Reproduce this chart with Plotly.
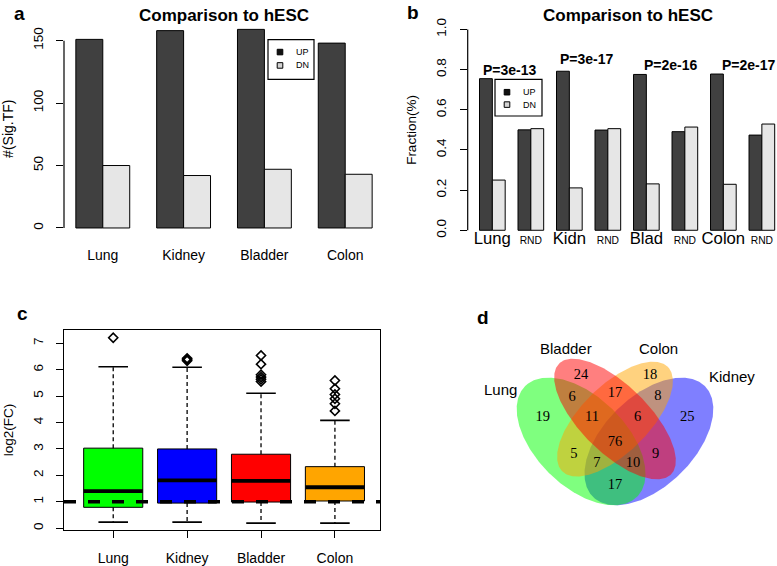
import numpy as np
import plotly.graph_objects as go

W, H = 777, 566

# ---------------- data ----------------
# panel a
tissues = ["Lung", "Kidney", "Bladder", "Colon"]
sig_up = [151, 158, 159, 148]
sig_dn = [50, 42, 47, 43]
a_yticks = [0, 50, 100, 150]

# panel b
b_groups = ["Lung", "RND", "Kidn", "RND", "Blad", "RND", "Colon", "RND"]
frac_up = [0.755, 0.500, 0.792, 0.499, 0.776, 0.491, 0.778, 0.474]
frac_dn = [0.250, 0.506, 0.211, 0.506, 0.231, 0.514, 0.229, 0.529]
p_labels = ["P=3e-13", "P=3e-17", "P=2e-16", "P=2e-17"]
b_yticks = [0.0, 0.2, 0.4, 0.6, 0.8, 1.0]

# panel c (box statistics of log2(FC))
box_colors = ["#00FF00", "#0000FF", "#FF0000", "#FFA500"]
whisk_lo = [0.23, 0.23, 0.19, 0.19]
q1 = [0.79, 0.95, 0.99, 1.03]
med = [1.40, 1.81, 1.79, 1.55]
q3 = [3.03, 3.00, 2.80, 2.33]
whisk_hi = [6.11, 6.09, 5.11, 4.08]
outliers = [
    [7.21],
    [6.34, 6.38, 6.43],
    [6.54, 6.21, 5.81, 5.72, 5.64, 5.55],
    [5.59, 5.28, 5.06, 4.90, 4.71, 4.44],
]
fc_threshold = 1.0
c_yticks = [0, 1, 2, 3, 4, 5, 6, 7]

# panel d (Venn)
venn_sets = ["Lung", "Kidney", "Bladder", "Colon"]
venn_fill = ["rgba(0,255,0,0.5)", "rgba(0,0,255,0.5)", "rgba(255,0,0,0.5)", "rgba(255,165,0,0.5)"]
venn_regions = ["B", "C", "LB", "BC", "CK", "L", "LBC", "BCK", "K", "LBCK", "LC", "BK", "LCK", "LBK", "LK"]
venn_counts = [24, 18, 6, 17, 8, 19, 11, 6, 25, 76, 5, 9, 7, 10, 17]

# ---------------- layout helpers ----------------
def dom_x(l, r):
    return [l / W, min(r / W, 1.0)]

def dom_y(t, b):
    return [1 - b / H, 1 - t / H]

def px(x):
    return x / W

def py(y):
    return 1 - y / H

SANS = "Liberation Sans, Arial, Helvetica, sans-serif"
SERIF = "Liberation Serif, Times New Roman, serif"
UP_COL, DN_COL = "#404040", "#E6E6E6"

fig = go.Figure()
shapes, annos = [], []

# ---------------- panel a ----------------
xa_up = [1.5 + 3 * i for i in range(len(tissues))]
xa_dn = [2.5 + 3 * i for i in range(len(tissues))]
fig.add_trace(go.Bar(x=xa_up, y=sig_up, width=1, marker=dict(color=UP_COL, line=dict(color="black", width=1)),
                     name="UP", showlegend=False, xaxis="x", yaxis="y"))
fig.add_trace(go.Bar(x=xa_dn, y=sig_dn, width=1, marker=dict(color=DN_COL, line=dict(color="black", width=1)),
                     name="DN", showlegend=False, xaxis="x", yaxis="y"))

# ---------------- panel b ----------------
xb_up = [1.5 + 3 * i for i in range(len(b_groups))]
xb_dn = [2.5 + 3 * i for i in range(len(b_groups))]
fig.add_trace(go.Bar(x=xb_up, y=frac_up, width=1, marker=dict(color=UP_COL, line=dict(color="black", width=1)),
                     name="UP", showlegend=False, xaxis="x2", yaxis="y2", cliponaxis=True))
fig.add_trace(go.Bar(x=xb_dn, y=frac_dn, width=1, marker=dict(color=DN_COL, line=dict(color="black", width=1)),
                     name="DN", showlegend=False, xaxis="x2", yaxis="y2", cliponaxis=True))

# ---------------- panel c ----------------
xc = [1, 2, 3, 4]
# whiskers (dashed)
wx, wy = [], []
for i, c in enumerate(xc):
    wx += [c, c, None, c, c, None]
    wy += [q3[i], whisk_hi[i], None, q1[i], whisk_lo[i], None]
fig.add_trace(go.Scatter(x=wx, y=wy, mode="lines", line=dict(color="black", width=1.3, dash="4px,3px"),
                         showlegend=False, hoverinfo="skip", xaxis="x3", yaxis="y3"))
# staples
sx, sy = [], []
for i, c in enumerate(xc):
    sx += [c - 0.2, c + 0.2, None, c - 0.2, c + 0.2, None]
    sy += [whisk_hi[i], whisk_hi[i], None, whisk_lo[i], whisk_lo[i], None]
fig.add_trace(go.Scatter(x=sx, y=sy, mode="lines", line=dict(color="black", width=1.6),
                         showlegend=False, hoverinfo="skip", xaxis="x3", yaxis="y3"))
# boxes
fig.add_trace(go.Bar(x=xc, y=[q3[i] - q1[i] for i in range(4)], base=q1, width=0.8,
                     marker=dict(color=box_colors, line=dict(color="black", width=1)),
                     showlegend=False, xaxis="x3", yaxis="y3"))
# medians
mx, my = [], []
for i, c in enumerate(xc):
    mx += [c - 0.4, c + 0.4, None]
    my += [med[i], med[i], None]
fig.add_trace(go.Scatter(x=mx, y=my, mode="lines", line=dict(color="black", width=3.8),
                         showlegend=False, hoverinfo="skip", xaxis="x3", yaxis="y3"))
# outliers
ox, oy = [], []
for i, c in enumerate(xc):
    ox += [c] * len(outliers[i])
    oy += outliers[i]
fig.add_trace(go.Scatter(x=ox, y=oy, mode="markers",
                         marker=dict(symbol="diamond-open", size=7, color="black", line=dict(width=1.6)),
                         showlegend=False, xaxis="x3", yaxis="y3"))
# threshold line
shapes.append(dict(type="line", xref="x3 domain", x0=0, x1=1, yref="y3", y0=fc_threshold, y1=fc_threshold,
                   line=dict(color="black", width=3.5, dash="12px,12px"), layer="above"))

# ---------------- panel d (Venn) ----------------
# VennDiagram quad layout: (x, y, a, b, rotation, set index); drawing order as in VennDiagram
ellipse_geom = [
    (0.65, 0.47, 0.35, 0.20, 45, 1),   # Kidney
    (0.35, 0.47, 0.35, 0.20, 135, 0),  # Lung
    (0.50, 0.57, 0.33, 0.15, 45, 3),   # Colon
    (0.50, 0.57, 0.35, 0.15, 135, 2),  # Bladder
]
t = np.linspace(0, 2 * np.pi, 361)
for (x0, y0, a, b, rot, k) in ellipse_geom:
    r = np.deg2rad(rot)
    ex = x0 + a * np.cos(t) * np.cos(r) - b * np.sin(t) * np.sin(r)
    ey = y0 + a * np.cos(t) * np.sin(r) + b * np.sin(t) * np.cos(r)
    fig.add_trace(go.Scatter(x=ex, y=ey, mode="lines", fill="toself", fillcolor=venn_fill[k],
                             line=dict(width=0), name=venn_sets[k], showlegend=False,
                             hoverinfo="skip", xaxis="x4", yaxis="y4"))

region_pos = {
    "B": (0.350, 0.765), "C": (0.655, 0.765), "LB": (0.310, 0.668), "BC": (0.500, 0.684),
    "CK": (0.690, 0.670), "L": (0.180, 0.578), "LBC": (0.398, 0.578), "BCK": (0.600, 0.578),
    "K": (0.820, 0.578), "LBCK": (0.500, 0.467), "LC": (0.318, 0.414), "BK": (0.680, 0.414),
    "LCK": (0.420, 0.374), "LBK": (0.580, 0.374), "LK": (0.500, 0.272),
}
fig.add_trace(go.Scatter(
    x=[region_pos[r][0] for r in venn_regions], y=[region_pos[r][1] for r in venn_regions],
    mode="text", text=[str(v) for v in venn_counts],
    textfont=dict(family=SERIF, size=14.5, color="black"), textposition="middle center",
    showlegend=False, hoverinfo="skip", xaxis="x4", yaxis="y4"))

venn_label_pos = {"Lung": (500, 390), "Kidney": (732, 377), "Bladder": (566, 349), "Colon": (658, 349)}
for s in venn_sets:
    lx, ly = venn_label_pos[s]
    annos.append(dict(text=s, x=px(lx), y=py(ly), xref="paper", yref="paper", showarrow=False,
                      xanchor="center", yanchor="middle", font=dict(family=SANS, size=15, color="black")))

# ---------------- text annotations ----------------
def bold(text, x, y, size):
    annos.append(dict(text=f"<b>{text}</b>", x=px(x), y=py(y), xref="paper", yref="paper", showarrow=False,
                      xanchor="center", yanchor="middle", font=dict(family=SANS, size=size, color="black")))

bold("a", 19, 11, 19)
bold("b", 413, 10, 19)
bold("c", 22, 313, 19)
bold("d", 483, 317, 19)
bold("Comparison to hESC", 224, 13, 17)
bold("Comparison to hESC", 628, 13, 17)

# p-value labels (panel b), in data coordinates
p_pos = [(3.4, 0.800), (9.4, 0.853), (15.9, 0.825), (22.0, 0.825)]
for lab, (x, y) in zip(p_labels, p_pos):
    annos.append(dict(text=f"<b>{lab}</b>", x=x, y=y, xref="x2", yref="y2", showarrow=False,
                      xanchor="center", yanchor="middle", font=dict(family=SANS, size=14, color="black")))

# axis titles
def ytitle(text, x, y, size):
    annos.append(dict(text=text, x=px(x), y=py(y), xref="paper", yref="paper", showarrow=False, textangle=-90,
                      xanchor="center", yanchor="middle", font=dict(family=SANS, size=size, color="black")))

ytitle("#(Sig.TF)", 8, 127, 14)
ytitle("Fraction(%)", 412, 128, 13.5)
ytitle("log2(FC)", 8, 431, 13.5)

# legends
def legend(box, sq_x, up_y, dn_y, txt_x):
    x0, y0, x1, y1 = box
    shapes.append(dict(type="rect", xref="paper", yref="paper", x0=px(x0), x1=px(x1), y0=py(y1), y1=py(y0),
                       line=dict(color="black", width=1.2), fillcolor="white", layer="above"))
    for (yy, col, lab) in [(up_y, "#111111", "UP"), (dn_y, "#D3D3D3", "DN")]:
        shapes.append(dict(type="rect", xref="paper", yref="paper", x0=px(sq_x - 2.8), x1=px(sq_x + 2.8),
                           y0=py(yy + 2.8), y1=py(yy - 2.8), line=dict(color="black", width=1),
                           fillcolor=col, layer="above"))
        annos.append(dict(text=lab, x=px(txt_x), y=py(yy), xref="paper", yref="paper", showarrow=False,
                          xanchor="left", yanchor="middle", font=dict(family=SANS, size=9, color="black")))

legend((268, 37, 314, 77), 280, 49.5, 63, 294)
legend((495, 77, 542, 114), 507, 90, 102.5, 520.5)

# y axis lines of the barplots (span first to last tick)
shapes.append(dict(type="line", xref="x domain", x0=0, x1=0, yref="y", y0=0, y1=150,
                   line=dict(color="black", width=1.2)))
shapes.append(dict(type="line", xref="x2 domain", x0=0, x1=0, yref="y2", y0=0, y1=1.0,
                   line=dict(color="black", width=1.2)))

# ---------------- axes ----------------
common = dict(showgrid=False, zeroline=False, color="black")
b_ticktext = [g if g != "RND" else "<span style='font-size:10.3px'>RND</span>" for g in b_groups]

fig.update_layout(
    width=W, height=H, margin=dict(l=0, r=0, t=0, b=0),
    paper_bgcolor="white", plot_bgcolor="white", barmode="overlay",
    font=dict(family=SANS, color="black"),
    xaxis=dict(domain=dom_x(64, 384), range=[0.56, 12.44], tickvals=[2 + 3 * i for i in range(4)],
               ticktext=tissues, ticks="", showline=False, anchor="free", position=py(244),
               tickfont=dict(size=14), **common),
    yaxis=dict(domain=dom_y(18.6, 235), range=[-6.36, 165.36], tickvals=a_yticks,
               ticktext=[str(v) for v in a_yticks], ticks="outside", ticklen=7, tickwidth=1.2,
               tickangle=-90, showline=False, anchor="x", tickfont=dict(size=13.5), ticklabelstandoff=8,
               **common),
    xaxis2=dict(domain=dom_x(467.7, 777), range=[0.08, 24.18], tickvals=[2 + 3 * i for i in range(8)],
                ticktext=b_ticktext, ticks="", showline=False, anchor="free", position=py(225),
                tickfont=dict(size=16.7), **common),
    yaxis2=dict(domain=dom_y(18.6, 237.4), range=[-0.04, 1.04], tickvals=b_yticks,
                ticktext=[f"{v:.1f}" for v in b_yticks], ticks="outside", ticklen=7, tickwidth=1.2,
                tickangle=-90, showline=False, anchor="x2", tickfont=dict(size=13.5), ticklabelstandoff=8,
                **common),
    xaxis3=dict(domain=dom_x(64, 380), range=[0.334, 4.61], tickvals=xc, ticktext=tissues,
                ticks="outside", ticklen=7, tickwidth=1.2, showline=True, mirror=True, linecolor="black",
                linewidth=1.2, anchor="y3", tickfont=dict(size=14), ticklabelstandoff=8, **common),
    yaxis3=dict(domain=dom_y(330, 532), range=[-0.08, 7.5], tickvals=c_yticks,
                ticktext=[str(v) for v in c_yticks], ticks="outside", ticklen=7, tickwidth=1.2,
                tickangle=-90, showline=True, mirror=True, linecolor="black", linewidth=1.2, anchor="x3",
                tickfont=dict(size=13.5), ticklabelstandoff=8, **common),
    xaxis4=dict(domain=dom_x(502, 728), range=[0, 1], visible=False, anchor="y4"),
    yaxis4=dict(domain=dom_y(322.6, 548.6), range=[0, 1], visible=False, anchor="x4"),
    shapes=shapes, annotations=annos,
)

# remove the browser's default 8px page margin so the figure sits at the window's top-left corner
fig.write_html("out.html", config={"displayModeBar": False},
               post_script="document.body.style.margin='0';document.body.style.padding='0';")
